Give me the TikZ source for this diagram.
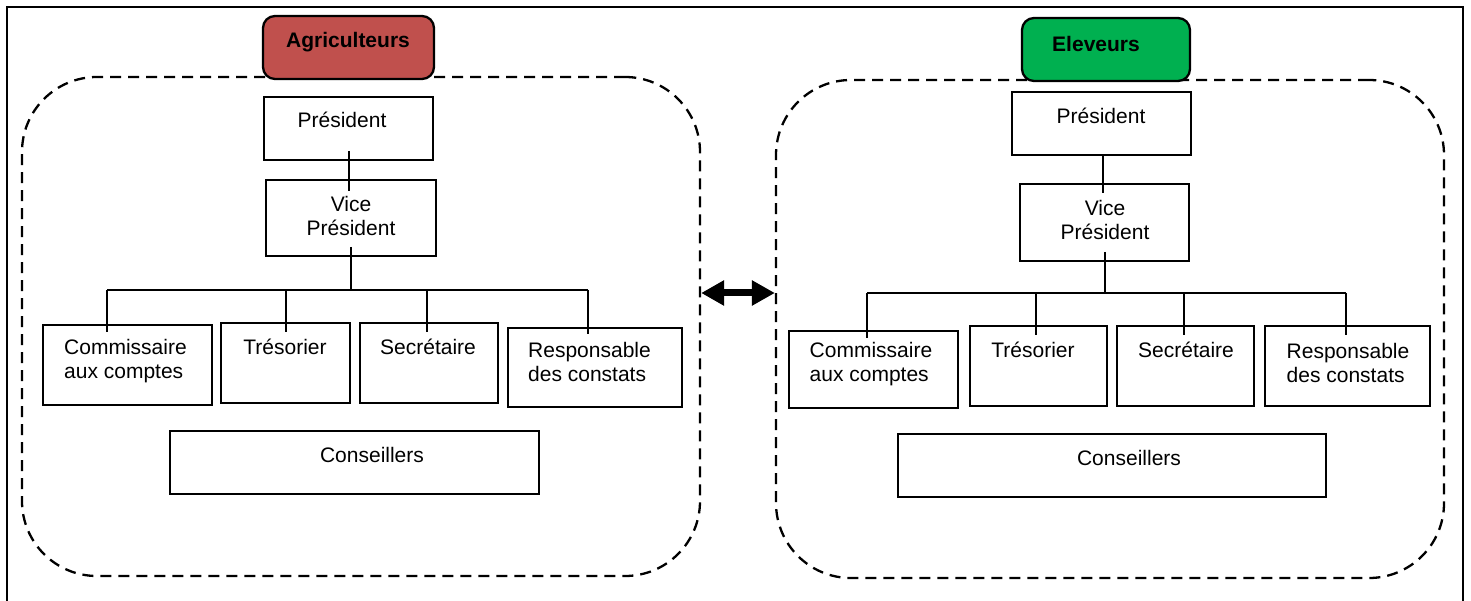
\documentclass[tikz,border=0pt]{standalone}
\usepackage{fontspec}
\setmainfont{Liberation Sans}
\usetikzlibrary{arrows.meta,calc}
\definecolor{agri}{HTML}{C0504D}
\definecolor{elev}{HTML}{00B050}
\begin{document}
\begin{tikzpicture}[x=1pt,y=-1pt,
  box/.style 2 args={draw, line width=1.8pt, minimum width=#1pt, minimum height=#2pt, inner sep=0pt},
  group/.style 2 args={draw, line width=2.3pt, dash pattern=on 11pt off 7pt, rounded corners=75pt, minimum width=#1pt, minimum height=#2pt, inner sep=0pt},
  head/.style 2 args={draw, line width=2.3pt, rounded corners=12pt, minimum width=#1pt, minimum height=#2pt, inner sep=0pt},
  txt/.style={font=\fontsize{21}{24}\selectfont, align=center, inner sep=0pt},
  ltxt/.style={font=\fontsize{21}{24}\selectfont, align=left, anchor=west, inner sep=0pt},
  htxt/.style={font=\fontsize{21}{24}\selectfont\bfseries, inner sep=0pt},
  conn/.style={line width=1.8pt},
  dbl/.style={line width=7pt, {Triangle[length=23pt,width=24pt]}-{Triangle[length=23pt,width=24pt]}}]
\useasboundingbox (0,0) rectangle (1471,601);
\fill[white] (0,0) rectangle (1471,601);
% outer frame
\draw[line width=2pt] (7,630) -- (7,7) -- (1463,7) -- (1463,630);
% groups
\node[group={678}{499}] (LG) at (361,326.5) {};
\node[group={668}{498}] (RG) at (1110,329) {};
% headers
\node[head={171}{63}, fill=agri] (LH) at (348.5,47.5) {};
\node[htxt] (LH-t) at (348,42) {Agriculteurs};
\node[head={168}{63}, fill=elev] (RH) at (1106,49.5) {};
\node[htxt] (RH-t) at (1096,44) {Eleveurs};
% left boxes
\node[box={169}{63}] (LP) at (348.5,128.5) {};
\node[txt] (LP-t) at (342,120) {Président};
\node[box={170}{76}] (LVP) at (351,218) {};
\node[txt] (LVP-t) at (351,216) {Vice\\Président};
\node[box={169}{80}] (LC) at (127.5,365) {};
\node[ltxt] (LC-t) at (64,361) {Commissaire\\aux comptes};
\node[box={129}{80}] (LT) at (285.5,363) {};
\node[txt] (LT-t) at (285,347) {Trésorier};
\node[box={138}{80}] (LS) at (429,363) {};
\node[txt] (LS-t) at (428,347) {Secrétaire};
\node[box={174}{79}] (LR) at (595,367.5) {};
\node[ltxt] (LR-t) at (528,362) {Responsable\\des constats};
\node[box={369}{63}] (LCo) at (354.5,462.5) {};
\node[txt] (LCo-t) at (372,455) {Conseillers};
% right boxes
\node[box={179}{63}] (RP) at (1101.5,123.5) {};
\node[txt] (RP-t) at (1101,116) {Président};
\node[box={169}{77}] (RVP) at (1104.5,222.5) {};
\node[txt] (RVP-t) at (1105,220) {Vice\\Président};
\node[box={169}{77}] (RC) at (873.5,369.5) {};
\node[ltxt] (RC-t) at (809.5,364) {Commissaire\\aux comptes};
\node[box={137}{80}] (RT) at (1038.5,366) {};
\node[txt] (RT-t) at (1033,350) {Trésorier};
\node[box={137}{80}] (RS) at (1185.5,366) {};
\node[txt] (RS-t) at (1186,350) {Secrétaire};
\node[box={165}{80}] (RR) at (1347.5,366) {};
\node[ltxt] (RR-t) at (1286.5,363) {Responsable\\des constats};
\node[box={428}{63}] (RCo) at (1112,465.5) {};
\node[txt] (RCo-t) at (1129,458) {Conseillers};
% left connectors
\coordinate (Lbus) at (351,290);
\coordinate (Ld1) at (107,290);
\coordinate (Ld2) at (286,290);
\coordinate (Ld3) at (427,290);
\coordinate (Ld4) at (588,290);
\draw[conn] ($(LP.south)+(0.5,-10)$) -- ($(LP.south |- LVP.north)+(0.5,12)$);
\draw[conn] ($(LVP.south)+(0,-10)$) -- (Lbus);
\draw[conn] (Ld1) -- (Ld4);
\draw[conn] (Ld1) -- ($(Ld1 |- LC.north)+(0,8)$);
\draw[conn] (Ld2) -- ($(Ld2 |- LT.north)+(0,10)$);
\draw[conn] (Ld3) -- ($(Ld3 |- LS.north)+(0,10)$);
\draw[conn] (Ld4) -- ($(Ld4 |- LR.north)+(0,7)$);
% right connectors
\coordinate (Rbus) at (1105,293);
\coordinate (Rd1) at (867,293);
\coordinate (Rd2) at (1036,293);
\coordinate (Rd3) at (1184,293);
\coordinate (Rd4) at (1346,293);
\draw[conn] ($(RP.south)+(1.5,0)$) -- ($(RP.south |- RVP.north)+(1.5,10)$);
\draw[conn] ($(RVP.south)+(0.5,-10)$) -- (Rbus);
\draw[conn] (Rd1) -- (Rd4);
\draw[conn] (Rd1) -- ($(Rd1 |- RC.north)+(0,8)$);
\draw[conn] (Rd2) -- ($(Rd2 |- RT.north)+(0,10)$);
\draw[conn] (Rd3) -- ($(Rd3 |- RS.north)+(0,10)$);
\draw[conn] (Rd4) -- ($(Rd4 |- RR.north)+(0,10)$);
% double arrow between groups
\draw[dbl] (LG.east |- Rbus) -- (RG.west |- Rbus);
\end{tikzpicture}
\end{document}
